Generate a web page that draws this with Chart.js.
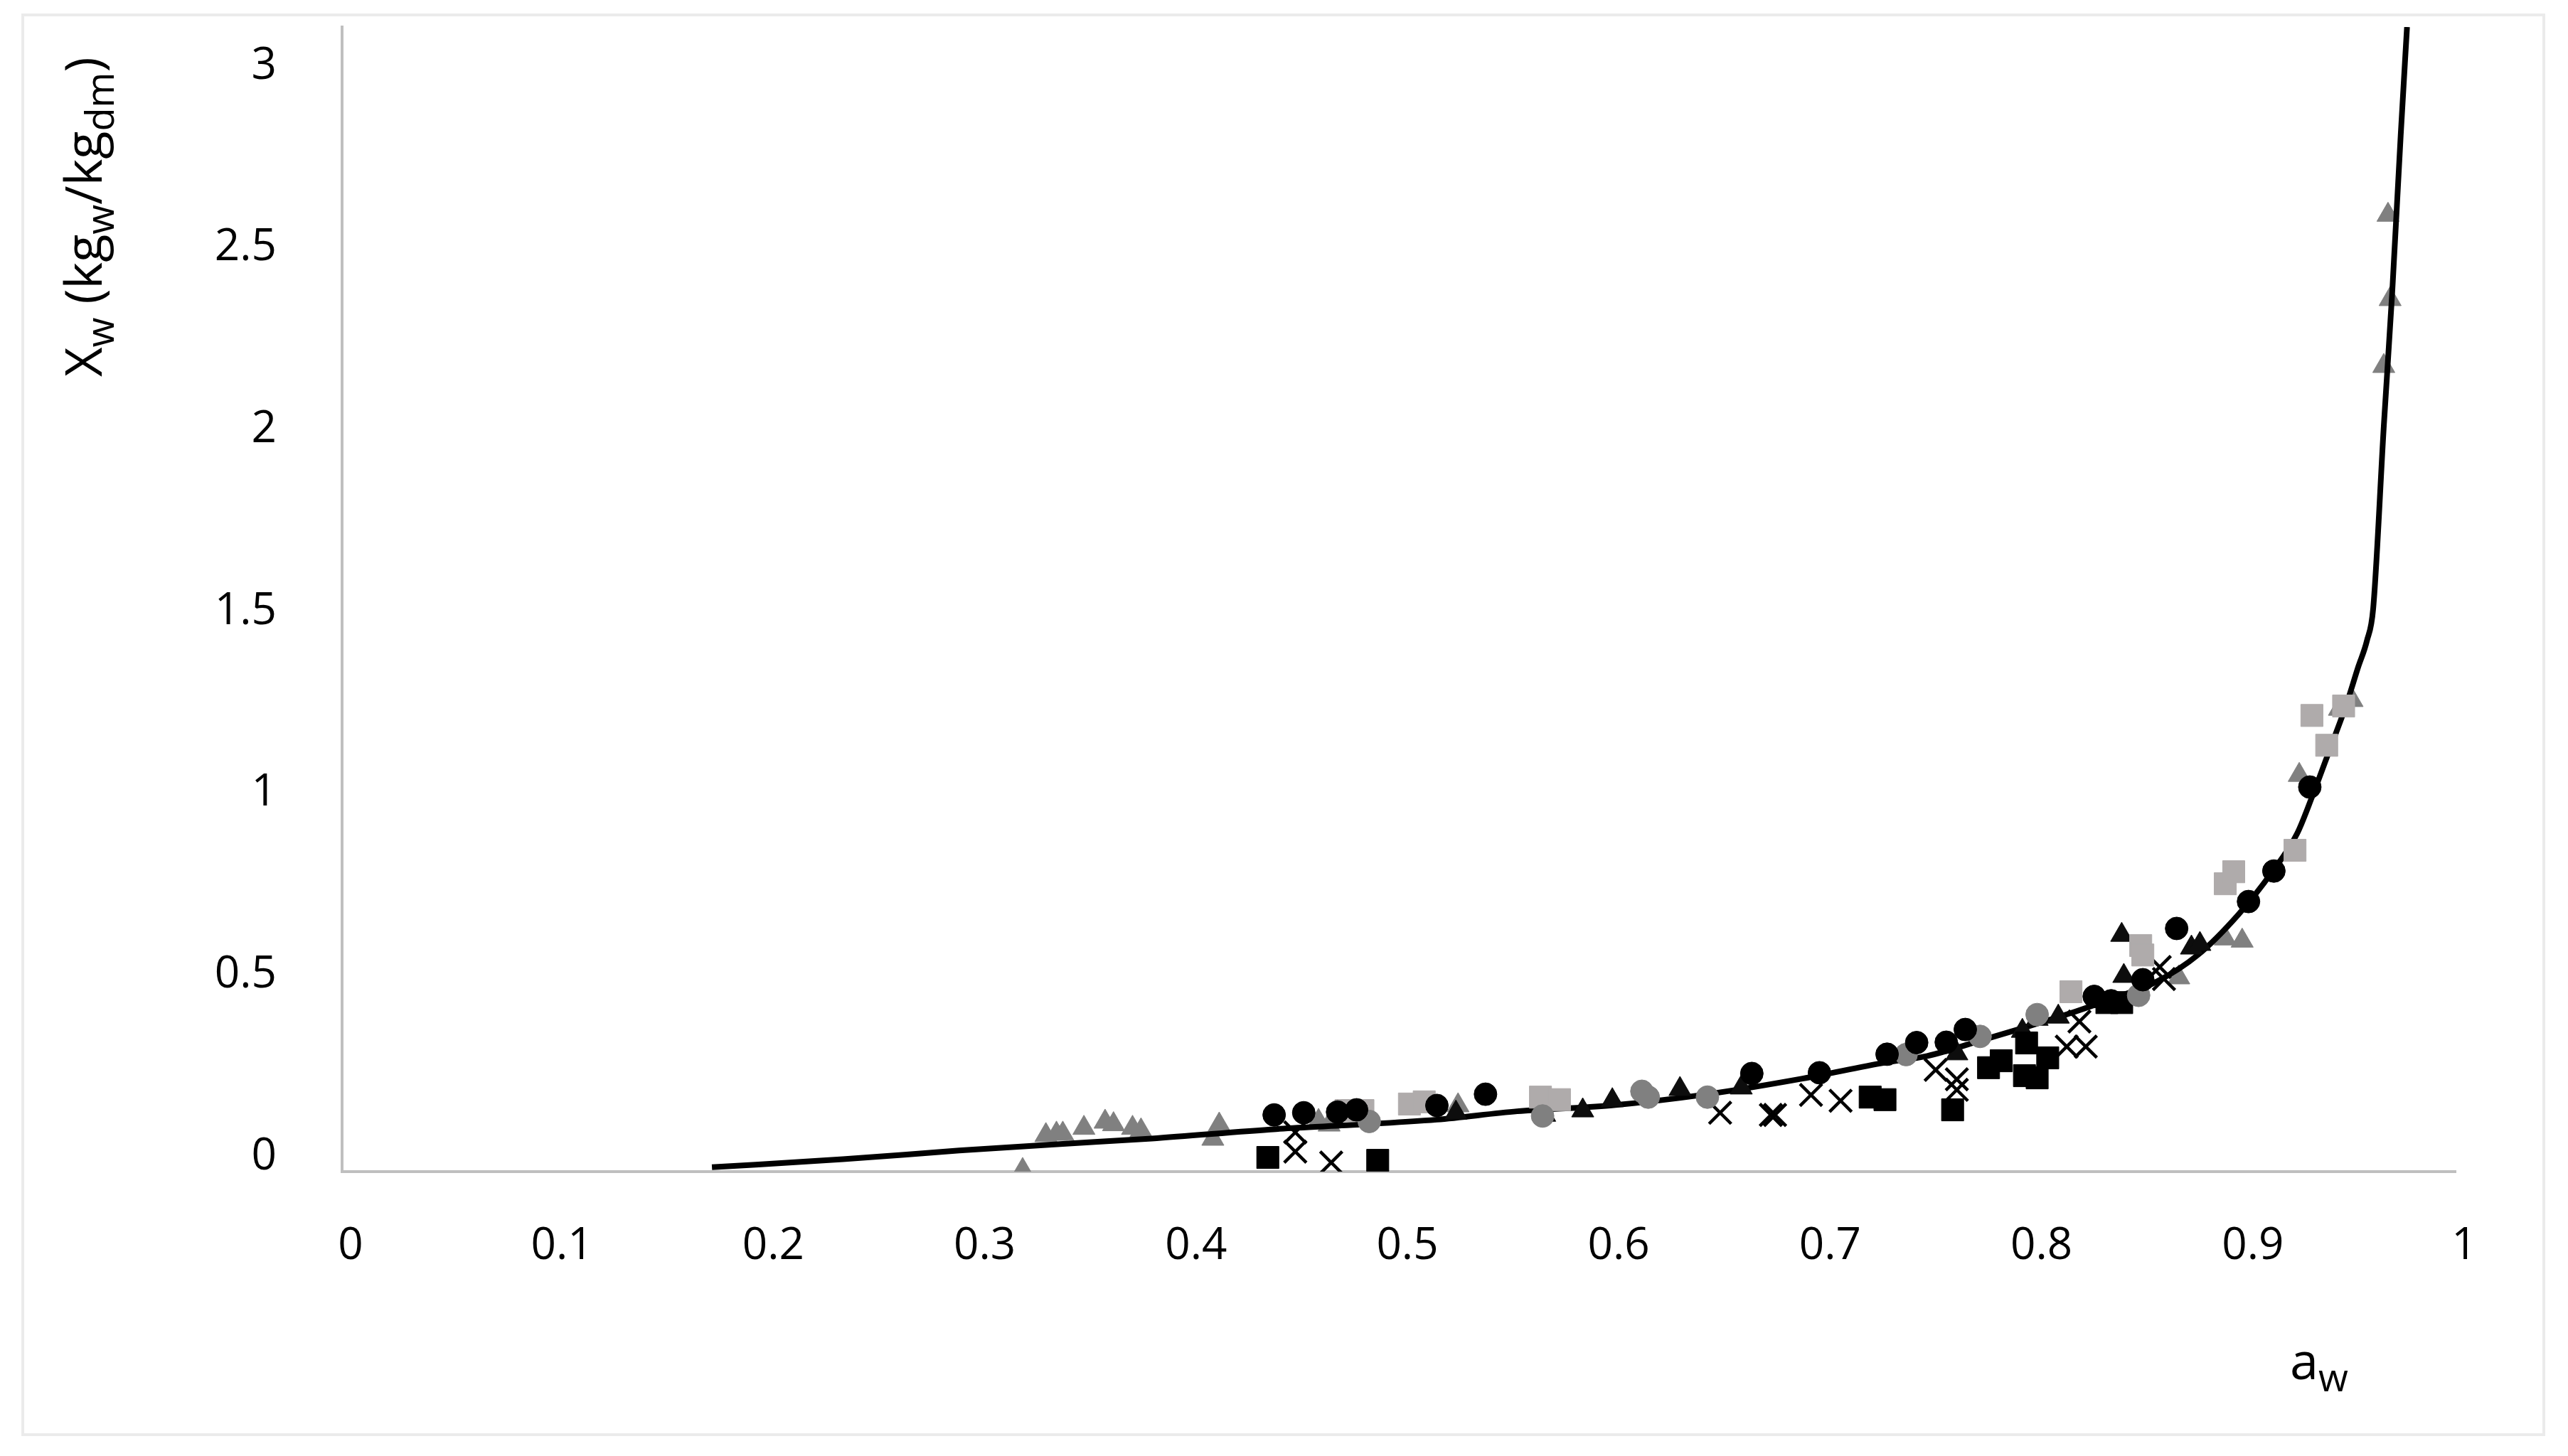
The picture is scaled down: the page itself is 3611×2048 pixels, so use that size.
<!DOCTYPE html>
<html>
<head>
<meta charset="utf-8">
<script src="https://cdn.jsdelivr.net/npm/chart.js@4.4.1/dist/chart.umd.min.js"></script>
<style>
  html, body { margin: 0; padding: 0; background: #ffffff; }
  #wrap { width: 3611px; height: 2048px; }
</style>
</head>
<body>
<div id="wrap"><canvas id="my-chart" width="3611" height="2048"></canvas></div>
<script>
// model curve
const curveAw = [0.175, 0.237, 0.292, 0.337, 0.383, 0.442, 0.473, 0.518, 0.556, 0.600, 0.646, 0.691, 0.730, 0.750, 0.775, 0.794, 0.820, 0.839, 0.859, 0.878, 0.897, 0.913, 0.925, 0.932, 0.941, 0.948, 0.954, 0.958, 0.961, 0.966, 0.970, 0.974, 0.977];
const curveXw = [0.012, 0.034, 0.058, 0.075, 0.091, 0.117, 0.127, 0.143, 0.166, 0.182, 0.213, 0.256, 0.300, 0.318, 0.360, 0.393, 0.440, 0.479, 0.524, 0.596, 0.706, 0.823, 0.930, 1.030, 1.170, 1.280, 1.390, 1.460, 1.550, 2.050, 2.420, 2.850, 3.149];

// experimental points
const blackCircleAw = [0.441, 0.455, 0.471, 0.480, 0.518, 0.541, 0.667, 0.699, 0.731, 0.745, 0.759, 0.768, 0.829, 0.837, 0.852, 0.868, 0.902, 0.914, 0.931];
const blackCircleXw = [0.156, 0.162, 0.164, 0.170, 0.182, 0.213, 0.270, 0.272, 0.323, 0.355, 0.356, 0.391, 0.482, 0.470, 0.528, 0.669, 0.743, 0.827, 1.058];

const greyCircleAw = [0.486, 0.568, 0.615, 0.618, 0.646, 0.740, 0.775, 0.802, 0.850];
const greyCircleXw = [0.138, 0.153, 0.221, 0.205, 0.205, 0.322, 0.372, 0.432, 0.485];

const lightSquareAw = [0.475, 0.483, 0.505, 0.512, 0.567, 0.576, 0.818, 0.851, 0.852, 0.891, 0.895, 0.924, 0.932, 0.939, 0.947];
const lightSquareXw = [0.168, 0.168, 0.186, 0.192, 0.205, 0.198, 0.495, 0.622, 0.596, 0.792, 0.825, 0.884, 1.255, 1.173, 1.281];

const blackSquareAw = [0.438, 0.490, 0.723, 0.730, 0.762, 0.779, 0.785, 0.796, 0.802, 0.807, 0.797, 0.835, 0.842];
const blackSquareXw = [0.039, 0.031, 0.205, 0.198, 0.170, 0.286, 0.305, 0.264, 0.258, 0.313, 0.354, 0.465, 0.465];

const blackTriangleAw = [0.527, 0.569, 0.587, 0.601, 0.633, 0.662, 0.764, 0.795, 0.802, 0.812, 0.843, 0.842, 0.875, 0.879];
const blackTriangleXw = [0.162, 0.156, 0.168, 0.196, 0.227, 0.231, 0.325, 0.387, 0.420, 0.426, 0.538, 0.651, 0.616, 0.626];

const greyTriangleAw = [0.322, 0.333, 0.338, 0.341, 0.351, 0.361, 0.365, 0.374, 0.378, 0.415, 0.412, 0.462, 0.467, 0.528, 0.869, 0.891, 0.899, 0.926, 0.945, 0.951, 0.966, 0.969, 0.968];
const greyTriangleXw = [0.004, 0.100, 0.104, 0.104, 0.120, 0.137, 0.130, 0.120, 0.113, 0.129, 0.090, 0.139, 0.129, 0.182, 0.534, 0.641, 0.635, 1.091, 1.273, 1.297, 2.216, 2.400, 2.632];

const crossAw = [0.451, 0.451, 0.468, 0.652, 0.676, 0.678, 0.695, 0.709, 0.754, 0.764, 0.764, 0.816, 0.825, 0.822, 0.860, 0.862];
const crossXw = [0.108, 0.055, 0.025, 0.162, 0.156, 0.156, 0.211, 0.195, 0.280, 0.254, 0.225, 0.344, 0.344, 0.413, 0.563, 0.530];

// axis ticks and titles
const xTicks = [0, 0.1, 0.2, 0.3, 0.4, 0.5, 0.6, 0.7, 0.8, 0.9, 1];
const yTicks = [0, 0.5, 1, 1.5, 2, 2.5, 3];
const xTitleParts = [['a', false], ['w', true]];
const yTitleParts = [['X', false], ['w', true], [' (kg', false], ['w', true], ['/kg', false], ['dm', true], [')', false]];

const FONT = '"Open Sans", "Liberation Sans", sans-serif';

function zip(xs, ys) {
  return xs.map((x, i) => ({ x, y: ys[i] }));
}

function markers(label, xs, ys, style, radius, color, order) {
  return {
    label,
    data: zip(xs, ys),
    pointStyle: style,
    pointRadius: radius,
    pointHoverRadius: radius,
    backgroundColor: color,
    borderColor: color,
    borderWidth: style === 'crossRot' ? 4.5 : 1,
    order,
  };
}

function drawParts(ctx, parts, x, y) {
  let cx = x;
  parts.forEach(([text, sub]) => {
    ctx.font = (sub ? '54px ' : '72px ') + FONT;
    ctx.fillText(text, cx, y + (sub ? 17 : 0));
    cx += ctx.measureText(text).width;
  });
}

// frame round the whole chart plus the axis titles with subscripts
const decorations = {
  id: 'decorations',
  beforeDraw(chart) {
    const ctx = chart.ctx;
    ctx.save();
    ctx.fillStyle = '#ffffff';
    ctx.fillRect(0, 0, chart.width, chart.height);
    ctx.strokeStyle = '#EBEBEB';
    ctx.lineWidth = 4;
    ctx.strokeRect(32, 21, 3545, 1997);
    ctx.restore();
  },
  afterDraw(chart) {
    const ctx = chart.ctx;
    const area = chart.chartArea;
    ctx.save();
    ctx.fillStyle = '#000000';
    ctx.textAlign = 'left';
    ctx.textBaseline = 'alphabetic';
    drawParts(ctx, xTitleParts, area.right - 233, area.bottom + 292);
    ctx.translate(area.left - 338, area.top + 492);
    ctx.rotate(-Math.PI / 2);
    drawParts(ctx, yTitleParts, 0, 0);
    ctx.restore();
  },
};

const ctx = document.getElementById('my-chart').getContext('2d');

const myChart = new Chart(ctx, {
  type: 'scatter',
  data: {
    datasets: [
      markers('black circles', blackCircleAw, blackCircleXw, 'circle', 16, '#000000', 0),
      markers('grey circles', greyCircleAw, greyCircleXw, 'circle', 16, '#808080', 1),
      markers('light squares', lightSquareAw, lightSquareXw, 'rect', 22, '#AFABAB', 2),
      markers('black squares', blackSquareAw, blackSquareXw, 'rect', 22, '#000000', 3),
      markers('black triangles', blackTriangleAw, blackTriangleXw, 'triangle', 18, '#0D0D0D', 4),
      markers('crosses', crossAw, crossXw, 'crossRot', 22, '#000000', 5),
      {
        label: 'model',
        data: zip(curveAw, curveXw),
        showLine: true,
        borderColor: '#000000',
        borderWidth: 8,
        pointRadius: 0,
        pointHoverRadius: 0,
        cubicInterpolationMode: 'monotone',
        order: 10,
      },
      markers('grey triangles', greyTriangleAw, greyTriangleXw, 'triangle', 18, '#808080', 20),
    ],
  },
  options: {
    responsive: false,
    animation: false,
    devicePixelRatio: 1,
    layout: { padding: { left: 0, top: 38, right: 158, bottom: 0 } },
    plugins: {
      legend: { display: false },
      tooltip: { enabled: false },
    },
    scales: {
      x: {
        type: 'linear',
        min: 0,
        max: 1,
        afterBuildTicks: (scale) => { scale.ticks = xTicks.map((v) => ({ value: v })); },
        afterFit: (scale) => {
          scale.height = 400;
          scale.paddingLeft = 0;
          scale.paddingRight = 0;
        },
        grid: { display: false, drawTicks: false },
        border: { display: true, color: '#BFBFBF', width: 4 },
        ticks: {
          color: '#000000',
          font: { family: FONT, size: 62 },
          padding: 68,
          labelOffset: 12,
          maxRotation: 0,
          autoSkip: false,
          callback: (v) => String(Math.round(v * 10) / 10),
        },
      },
      y: {
        type: 'linear',
        min: 0,
        max: 3.149,
        afterBuildTicks: (scale) => { scale.ticks = yTicks.map((v) => ({ value: v })); },
        afterFit: (scale) => {
          scale.width = 481;
          scale.paddingTop = 0;
          scale.paddingBottom = 0;
        },
        grid: { display: false, drawTicks: false },
        border: { display: true, color: '#BFBFBF', width: 4 },
        ticks: {
          color: '#000000',
          font: { family: FONT, size: 62 },
          padding: 92,
          labelOffset: -21,
          autoSkip: false,
          callback: (v) => String(Math.round(v * 10) / 10),
        },
      },
    },
  },
  plugins: [decorations],
});
</script>
</body>
</html>
